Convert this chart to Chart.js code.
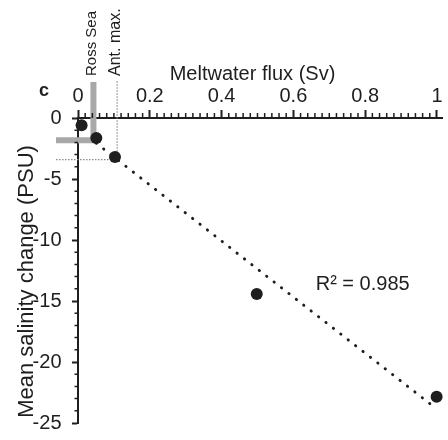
<!DOCTYPE html>
<html><head><meta charset="utf-8">
<script src="https://cdn.jsdelivr.net/npm/chart.js@4/dist/chart.umd.min.js"></script>
<style>html,body{margin:0;padding:0;background:#fff;}canvas{display:block;}</style>
</head><body>
<canvas id="c" width="448" height="440" style="width:448px;height:440px"></canvas>
<script>
// ---- data ----
const meltwaterFlux   = [0.010, 0.051, 0.103, 0.498, 0.999];
const salinityChange  = [-0.59, -1.63, -3.19, -14.43, -22.84];
const trendFlux       = [0.0507, 1.0];
const trendSalinity   = [-2.06, -23.87];
const xTickValues     = [0, 0.2, 0.4, 0.6, 0.8, 1];
const yTickValues     = [0, -5, -10, -15, -20, -25];
const xMinorStep = 0.02;
const yMinorStep = 1;
const refNames     = ['Ross Sea', 'Ant. max.'];
const refFlux      = [0.043, 0.109];
const refSalinity  = [-1.83, -3.41];
const xTitle = 'Meltwater flux (Sv)';
const yTitle = 'Mean salinity change (PSU)';
const panelLabel = 'c';
const fitLabel = 'R² = 0.985';
const fitLabelAt = [0.793, -14.08];

const FONT = '"Liberation Sans", Arial, Helvetica, sans-serif';
const INK = '#1e1e1e';
const refFontSizes = [15, 16];

const annot = {
  id: 'annot',
  beforeDatasetsDraw(chart) {
    const {ctx, chartArea: ca, scales: {x, y}} = chart;
    ctx.save();
    const rx = x.getPixelForValue(refFlux[0]), ry = y.getPixelForValue(refSalinity[0]);
    ctx.strokeStyle = '#a8a8a8'; ctx.lineWidth = 6; ctx.lineJoin = 'miter'; ctx.lineCap = 'butt';
    ctx.beginPath(); ctx.moveTo(ca.left - 22, ry); ctx.lineTo(rx, ry); ctx.lineTo(rx, ca.top - 36); ctx.stroke();
    const ax = x.getPixelForValue(refFlux[1]), ay = y.getPixelForValue(refSalinity[1]);
    ctx.strokeStyle = '#8a8a8a'; ctx.lineWidth = 1.2; ctx.setLineDash([1.5, 1.5]);
    ctx.beginPath(); ctx.moveTo(ca.left - 22, ay); ctx.lineTo(ax, ay); ctx.lineTo(ax, ca.top - 38); ctx.stroke();
    ctx.restore();
  },
  afterDraw(chart) {
    const {ctx, chartArea: ca, scales: {x, y}} = chart;
    ctx.save();
    // minor ticks
    ctx.strokeStyle = INK; ctx.lineWidth = 1.5;
    ctx.beginPath();
    for (let i = 1; i * xMinorStep <= 1.0001; i++) {
      if (i % 10 === 0) continue;
      const px = x.getPixelForValue(i * xMinorStep);
      ctx.moveTo(px, ca.top); ctx.lineTo(px, ca.top - 5);
    }
    for (let i = 1; i * yMinorStep <= 25; i++) {
      if (i % 5 === 0) continue;
      const py = y.getPixelForValue(-i * yMinorStep);
      ctx.moveTo(ca.left, py); ctx.lineTo(ca.left - 3.5, py);
    }
    ctx.stroke();
    ctx.fillStyle = INK;
    // x title
    ctx.font = '20px ' + FONT; ctx.textAlign = 'center'; ctx.textBaseline = 'alphabetic';
    ctx.fillText(xTitle, ca.left + 174.5, ca.top - 38);
    // y title
    ctx.save();
    ctx.translate(ca.left - 45.5, y.getPixelForValue(-13.4));
    ctx.rotate(-Math.PI / 2);
    ctx.font = '22px ' + FONT; ctx.textAlign = 'center'; ctx.textBaseline = 'alphabetic';
    ctx.fillText(yTitle, 0, 0);
    ctx.restore();
    // panel label
    ctx.font = 'bold 18px ' + FONT; ctx.textAlign = 'center'; ctx.textBaseline = 'alphabetic';
    ctx.fillText(panelLabel, ca.left - 34, ca.top - 22.5);
    // reference labels
    for (let k = 0; k < refNames.length; k++) {
      ctx.save();
      ctx.translate(x.getPixelForValue(refFlux[k]) - 2, ca.top - 42);
      ctx.rotate(-Math.PI / 2);
      ctx.font = refFontSizes[k] + 'px ' + FONT; ctx.textAlign = 'left'; ctx.textBaseline = 'middle';
      ctx.fillText(refNames[k], 0, 0);
      ctx.restore();
    }
    // fit label
    ctx.font = '20px ' + FONT; ctx.textAlign = 'center'; ctx.textBaseline = 'alphabetic';
    ctx.fillText(fitLabel, x.getPixelForValue(fitLabelAt[0]), y.getPixelForValue(fitLabelAt[1]));
    ctx.restore();
  }
};

new Chart(document.getElementById('c'), {
  type: 'scatter',
  data: {
    datasets: [
      {
        data: meltwaterFlux.map((v, i) => ({x: v, y: salinityChange[i]})),
        pointRadius: 6, pointHoverRadius: 6, backgroundColor: INK, borderWidth: 0, clip: false
      },
      {
        data: trendFlux.map((v, i) => ({x: v, y: trendSalinity[i]})),
        showLine: true, pointRadius: 0, borderColor: INK, borderWidth: 2.9,
        borderDash: [0.3, 9.1], borderCapStyle: 'round', clip: false, fill: false
      }
    ]
  },
  options: {
    responsive: false, animation: false, devicePixelRatio: 1,
    layout: {padding: {left: 0, top: 0, right: 0, bottom: 17}},
    plugins: {legend: {display: false}, tooltip: {enabled: false}},
    scales: {
      x: {
        type: 'linear', position: 'top', min: 0, max: 1.014, z: 1,
        afterBuildTicks: s => { s.ticks = xTickValues.map(v => ({value: v})); },
        afterFit: s => { s.height = 118; s.paddingLeft = 0; s.paddingRight = 0; },
        ticks: {font: {size: 20, family: FONT}, color: INK, padding: 2, maxRotation: 0, autoSkip: false, callback: v => String(v)},
        grid: {drawOnChartArea: false, drawTicks: true, tickLength: 8, tickWidth: 2, tickColor: INK},
        border: {display: true, color: INK, width: 2},
        title: {display: false}
      },
      y: {
        type: 'linear', position: 'left', min: -25, max: 0, z: 1,
        afterBuildTicks: s => { s.ticks = yTickValues.map(v => ({value: v})); },
        afterFit: s => { s.width = 78; s.paddingTop = 0; s.paddingBottom = 0; },
        ticks: {font: {size: 20, family: FONT}, color: INK, padding: 10.5, autoSkip: false, callback: v => String(v)},
        grid: {drawOnChartArea: false, drawTicks: true, tickLength: 6, tickWidth: 2, tickColor: INK},
        border: {display: true, color: INK, width: 2},
        title: {display: false}
      }
    }
  },
  plugins: [annot]
});
</script>
</body></html>
